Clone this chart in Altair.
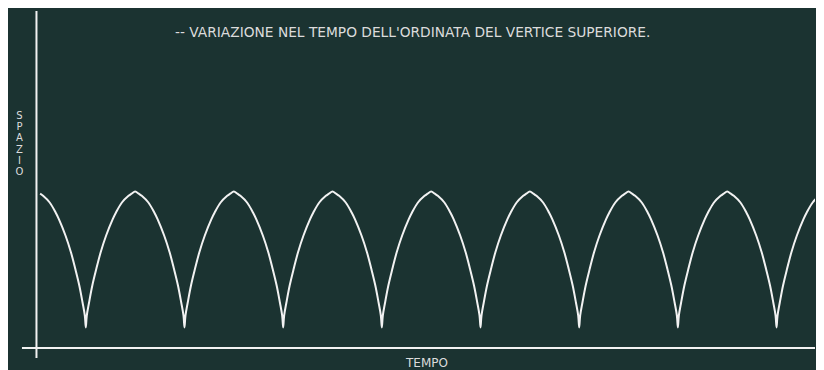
import altair as alt
import pandas as pd

# --- values ---
# time of each arch top (time unit = one arch period)
peak_times = [0, 1, 2, 3, 4, 5, 6, 7, 8]
# shape of one arch: time offset from the top and height ("spazio", arbitrary units)
arch_offsets = [0.0, 0.037, 0.067, 0.134, 0.194, 0.227, 0.294, 0.350, 0.394, 0.434, 0.467, 0.490, 0.500]
arch_heights = [156.5, 154.3, 152.2, 145.5, 135.5, 128.9, 112.5, 95.5, 78.9, 62.5, 45.5, 32.5, 20.5]
curve_start = 0.037          # the trace begins just right of the first top

title_text = "-- VARIAZIONE NEL TEMPO DELL'ORDINATA DEL VERTICE SUPERIORE."
y_label = ["S", "P", "A", "Z", "I", "O"]
x_label = "TEMPO"

# axis extents (in data units)
x_dom = [-0.2885, 7.8897]
y_dom = [-22, 340]
vaxis = pd.DataFrame({"t": [0.0], "s1": [-10.0], "s2": [337.0]})
haxis = pd.DataFrame({"t1": [-0.147], "t2": [x_dom[1]], "s": [0.0]})

# build the curve table from the read arch shape
rows = []
for p in peak_times:
    for off, h in zip(reversed(arch_offsets), reversed(arch_heights)):
        t = p - off
        if t >= curve_start:
            rows.append((t, h))
    for off, h in zip(arch_offsets[1:], arch_heights[1:]):
        t = p + off
        if t >= curve_start:
            rows.append((t, h))
curve = pd.DataFrame(rows, columns=["t", "s"]).drop_duplicates("t").sort_values("t")

BG = "#1b3331"
FG = "#f2f2f2"
TXT = "#dcdcdc"
FONT = "DejaVu Sans"

xs = alt.Scale(domain=x_dom, nice=False, zero=False)
ys = alt.Scale(domain=y_dom, nice=False, zero=False)

line = alt.Chart(curve).mark_line(
    color=FG, strokeWidth=2, interpolate="catmull-rom", clip=True
).encode(
    x=alt.X("t:Q", scale=xs, axis=None),
    y=alt.Y("s:Q", scale=ys, axis=None),
)

v_rule = alt.Chart(vaxis).mark_rule(color=FG, strokeWidth=2).encode(
    x=alt.X("t:Q", scale=xs, axis=None),
    y=alt.Y("s1:Q", scale=ys, axis=None),
    y2="s2:Q",
)
h_rule = alt.Chart(haxis).mark_rule(color=FG, strokeWidth=2).encode(
    x=alt.X("t1:Q", scale=xs, axis=None),
    x2="t2:Q",
    y=alt.Y("s:Q", scale=ys, axis=None),
)

title = alt.Chart(pd.DataFrame({"a": [0]})).mark_text(
    text=title_text, font=FONT, fontSize=13.75, color=TXT,
    align="left", baseline="middle",
).encode(x=alt.value(167), y=alt.value(24.5))

ylab = alt.Chart(pd.DataFrame({"a": [0]})).mark_text(
    text=y_label, font=FONT, fontSize=10, color=TXT, lineHeight=11.2,
    align="center", baseline="middle",
).encode(x=alt.value(11.5), y=alt.value(108))

xlab = alt.Chart(pd.DataFrame({"a": [0]})).mark_text(
    text=x_label, font=FONT, fontSize=12, color=TXT,
    align="center", baseline="middle",
).encode(x=alt.value(419), y=alt.value(355))

chart = alt.layer(v_rule, h_rule, line, title, ylab, xlab).properties(
    width=808, height=362, padding=0,
    autosize=alt.AutoSizeParams(type="fit", contains="padding"),
    background=BG,
).configure_view(stroke=None)

chart.save("out.html", embed_options={"renderer": "svg", "actions": False})
